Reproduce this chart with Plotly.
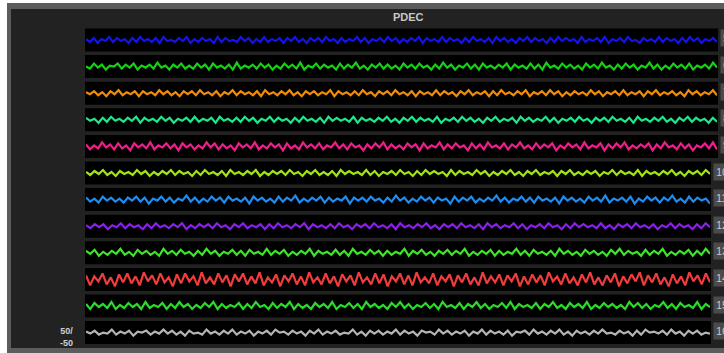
import plotly.graph_objects as go

W, H = 724, 353

channels = ["5", "6", "7", "8", "9", "10", "11", "12", "13", "14", "15", "16"]
colors = ["#1414e6", "#14d214", "#f08c0a", "#1ee68c", "#f01e8c", "#a0e614",
          "#1e8cf0", "#8c1ef0", "#3ce628", "#f03c3c", "#28dc28", "#b4b4b4"]

ch5 = [1,-2,2,-3,1,-1,3,-2,2,-1,1,-3,2,-2,3,-1,1,-2,2,-3,3,-1,0,-2,2,-1,3,-3,1,-2,2,-1,1,-3,3,-2,2,-1,0,-2,3,-1,2,-3,1,-2,3,-2,1,-1,2,-3,2,-1,3,-2,1,-3,2,-1,2,-2,3,-1,1,-3,2,-2,1,-1,3,-2,2,-3,1,-1,2,-2,3,-1,2,-3,1,-2,2,-1,3,-3,2,-1,1,-2,3,-2,2,-1,1,-3,2,-2,3,-1,1,-2,2,-3,3,-1,2,-2,1,-3,2,-1,3,-2,2,-1,1,-3,2,-2,3,-1,2,-1,1,-3,3,-2,1,-1,2,-2,3,-3,1,-1,2,-2,3,-1,0,-3,2,-1,1,-2,3,-2,2,-1,1,-3,2,-2,3,-1,2,-3,1,-1,2,-2]
ch6 = [0,-2,3,-1,2,-3,1,0,3,-2,2,-1,3,-3,1,-1,2,-2,4,-1,1,-3,2,-1,3,-2,1,-2,3,-1,2,-3,3,-1,1,-2,2,-3,4,-2,1,-1,2,-2,3,-1,2,-3,1,-2,3,-1,2,-2,4,-3,1,-1,3,-2,2,-1,1,-3,3,-2,2,-1,4,-2,1,-3,2,-1,3,-2,2,-2,1,-3,3,-1,2,-2,3,-1,1,-3,2,-2,4,-1,2,-3,1,-1,3,-2,2,-3,3,-1,1,-2,2,-1,3,-3,2,-1,1,-2,3,-2,2,-3,4,-1,1,-2,3,-1,2,-2,1,-3,3,-1,2,-2,4,-1,1,-3,2,-2,3,-1,2,-3,1,-1,4,-2,2,-3,1,-2,3,-1,2,-2,3,-3,1,-1,2,-2,4,-1]
ch7 = [1,-1,2,-2,1,-3,2,-1,3,-2,1,-1,2,-3,2,-1,1,-2,3,-1,2,-2,1,-3,2,-1,2,-2,3,-1,1,-2,2,-3,1,-1,3,-2,2,-1,1,-2,2,-3,3,-1,1,-2,2,-1,3,-2,1,-3,2,-1,2,-2,1,-1,3,-3,2,-1,1,-2,2,-2,3,-1,1,-3,2,-1,2,-2,3,-1,1,-2,2,-3,2,-1,1,-2,3,-2,2,-1,1,-3,2,-1,3,-2,1,-1,2,-3,2,-2,3,-1,1,-2,2,-1,3,-3,1,-1,2,-2,3,-1,2,-3,1,-2,2,-1,1,-2,3,-1,2,-3,1,-1,2,-2,3,-2,1,-1,2,-3,2,-1,3,-2,1,-1,2,-2,1,-3,3,-1,2,-2,1,-1,3,-2]
ch8 = [2,-1,1,-3,2,-2,3,-1,1,-2,2,-1,3,-3,2,-1,1,-2,3,-1,2,-3,1,-1,2,-2,3,-2,1,-1,2,-3,3,-1,1,-2,2,-2,3,-1,2,-3,1,-1,3,-2,2,-1,1,-3,2,-2,3,-1,1,-2,2,-3,3,-1,2,-1,1,-2,3,-3,2,-1,1,-2,2,-1,3,-2,1,-3,2,-1,3,-2,2,-1,1,-2,3,-3,1,-1,2,-2,3,-1,2,-2,1,-3,2,-1,3,-2,1,-1,2,-3,3,-1,2,-2,1,-1,3,-2,2,-3,1,-1,2,-2,3,-1,1,-3,2,-1,2,-2,3,-1,1,-2,2,-3,3,-1,1,-2,2,-1,3,-2,1,-3,2,-1,3,-2,2,-1,1,-3,2,-2]
ch9 = [2,-3,1,-2,4,-1,2,-3,3,-2,1,-4,3,-1,2,-2,4,-3,1,-1,3,-2,2,-4,3,-1,2,-3,1,-2,4,-1,3,-3,2,-2,1,-4,3,-1,2,-2,4,-3,1,-2,3,-1,2,-4,3,-2,1,-3,4,-1,2,-2,3,-3,1,-1,4,-2,2,-3,3,-1,1,-4,2,-2,3,-1,4,-3,2,-2,1,-3,3,-1,2,-4,3,-2,1,-1,4,-3,2,-2,3,-1,1,-4,3,-2,2,-3,4,-1,1,-2,3,-3,2,-1,4,-2,1,-3,3,-2,2,-1,3,-4,1,-2,3,-1,2,-3,4,-2,1,-1,3,-4,2,-2,3,-1,4,-3,1,-2,2,-1,3,-4,2,-2,4,-1,1,-3,3,-2,2,-4,1,-1,3,-2,4,-3]
ch10 = [1,-2,2,-1,3,-2,1,-3,2,-1,1,-2,3,-1,2,-3,1,-2,2,-1,3,-2,2,-1,1,-3,2,-2,3,-1,1,-2,2,-3,3,-1,1,-2,2,-1,3,-3,1,-2,2,-1,2,-2,3,-1,1,-3,2,-1,3,-2,1,-2,2,-3,3,-1,2,-1,1,-2,3,-2,2,-3,1,-1,2,-2,3,-1,1,-3,2,-2,3,-1,2,-1,1,-3,3,-2,2,-1,1,-2,3,-1,2,-3,1,-2,2,-1,3,-2,1,-3,2,-1,3,-2,1,-1,2,-3,2,-1,3,-2,1,-2,2,-1,2,-3,1,-1,3,-2,2,-1,1,-2,3,-3,2,-1,1,-2,2,-1,3,-2,1,-3,2,-1,2,-2,3,-1]
ch11 = [2,-2,1,-3,3,-1,2,-2,1,-3,2,-1,3,-2,2,-4,1,-1,3,-2,2,-3,1,-1,4,-2,2,-3,1,-2,3,-1,2,-3,3,-1,1,-2,2,-4,3,-1,2,-2,1,-3,3,-2,2,-1,4,-3,1,-2,2,-1,3,-3,2,-2,1,-1,3,-4,2,-1,2,-2,3,-1,1,-3,2,-2,4,-1,2,-3,1,-2,3,-1,2,-3,2,-1,1,-4,3,-2,2,-1,3,-3,1,-2,2,-1,4,-2,2,-3,1,-1,3,-2,2,-3,3,-1,1,-2,2,-4,3,-1,2,-2,1,-3,3,-1,2,-2,4,-3,1,-1,2,-2,3,-4,1,-2,3,-1,2,-3,2,-1,4,-2,1,-3,3,-2,2,-1,1,-4]
ch12 = [1,-2,2,-1,2,-3,1,-1,3,-2,2,-1,1,-3,2,-2,3,-1,1,-2,2,-1,3,-3,1,-2,2,-1,2,-2,3,-1,1,-3,2,-1,3,-2,1,-1,2,-3,2,-2,3,-1,1,-2,2,-1,3,-3,2,-1,1,-2,2,-2,3,-1,1,-3,2,-1,2,-2,3,-1,1,-2,2,-3,3,-1,1,-2,2,-1,3,-2,1,-3,2,-1,2,-2,3,-1,1,-2,2,-3,3,-1,2,-2,1,-1,3,-2,2,-3,1,-1,2,-2,3,-1,1,-3,2,-2,3,-1,2,-1,1,-2,3,-2,1,-3,2,-1,2,-2,3,-1,1,-2,2,-3,1,-1,3,-2,2,-1,1,-3,2,-2,3,-1]
ch13 = [2,-1,3,-3,1,-2,2,-1,4,-2,1,-3,3,-1,2,-2,1,-3,4,-1,2,-2,3,-1,1,-3,2,-2,4,-1,2,-3,1,-1,3,-2,2,-3,3,-1,1,-2,4,-2,2,-1,3,-3,1,-2,2,-1,4,-3,2,-1,1,-2,3,-2,2,-3,4,-1,1,-2,3,-1,2,-3,2,-2,1,-1,4,-3,2,-1,3,-2,1,-3,2,-1,3,-2,2,-1,4,-3,1,-2,2,-1,3,-3,2,-2,1,-1,4,-2,2,-3,3,-1,1,-2,2,-3,4,-1,2,-2,1,-3,3,-1,2,-2,1,-3,3,-1,4,-2,2,-1,1,-3,3,-2,2,-1,4,-3,1,-2,2,-1,3,-3,2,-2,4,-1]
ch14 = [4,-6,3,-2,6,-5,2,-7,5,-3,6,-4,3,-6,7,-2,4,-5,6,-3,2,-7,5,-4,6,-2,3,-6,7,-4,2,-5,6,-3,4,-7,5,-2,6,-5,3,-4,7,-6,2,-3,5,-7,4,-2,6,-5,3,-6,7,-3,2,-5,6,-4,3,-7,5,-2,4,-6,7,-3,2,-5,6,-4,5,-7,3,-2,6,-5,4,-6,7,-3,2,-4,6,-6,3,-2,5,-7,4,-3,6,-5,2,-6,7,-4,3,-3,5,-6,4,-2,6,-7,3,-5,5,-3,4,-6,7,-2,3,-5,6,-4,2,-6,5,-3,7,-5,2,-6,4,-3,6,-7,3,-4,5,-2,7,-6,4,-3,6,-5,2,-7,5,-4,3,-6,7,-2,4,-5,6,-3]
ch15 = [2,-3,3,-1,2,-2,4,-3,1,-2,3,-1,2,-3,4,-2,1,-1,3,-3,2,-2,4,-1,2,-3,1,-2,3,-1,4,-3,2,-2,1,-1,3,-3,2,-2,4,-1,1,-3,3,-2,2,-1,4,-3,2,-2,1,-3,3,-1,2,-2,4,-3,1,-1,3,-2,2,-3,4,-1,2,-2,1,-3,3,-1,4,-2,2,-3,1,-1,3,-2,2,-3,4,-1,1,-2,3,-3,2,-1,4,-2,2,-3,1,-1,3,-2,4,-3,2,-1,1,-2,3,-3,2,-1,4,-2,1,-3,3,-1,2,-2,4,-3,1,-2,3,-1,2,-2,1,-3,4,-1,3,-2,2,-3,1,-1,4,-2,2,-3,3,-1,1,-2,4,-3,2,-1]
ch16 = [1,-1,2,-2,0,-1,3,-2,1,-1,2,-3,1,0,2,-2,1,-1,3,-1,2,-2,1,-3,2,-1,0,-2,3,-1,1,-2,2,-1,3,-2,1,-1,2,-3,1,-1,2,-2,3,0,1,-2,2,-1,1,-3,2,-1,3,-2,1,-1,2,-2,0,-1,3,-2,1,-3,2,-1,2,-2,1,-1,3,-2,2,-1,1,-3,2,0,1,-2,3,-1,2,-2,1,-1,2,-3,1,-1,3,-2,2,-1,1,-2,2,-3,1,0,2,-2,3,-1,1,-2,2,-1,3,-2,1,-3,2,-1,1,-2,2,-1,3,-1,0,-2,2,-1,1,-3,2,-2,3,0,1,-1,2,-2,3,-1,1,-3,2,-1,2,-2,0,-1]

series = [ch5, ch6, ch7, ch8, ch9, ch10, ch11, ch12, ch13, ch14, ch15, ch16]
title_text = "PDEC"
scale_text = "<b>50/<br>-50</b>"


def px(x):
    return x / W


def py(y):
    return 1 - y / H


fig = go.Figure()
shapes = [
    dict(type="rect", xref="paper", yref="paper", x0=px(7), x1=px(W), y0=py(H), y1=py(3),
         fillcolor="#5c5c5c", line=dict(width=0), layer="below"),
    dict(type="rect", xref="paper", yref="paper", x0=px(11), x1=px(W), y0=py(348), y1=py(9),
         fillcolor="#222222", line=dict(width=0), layer="below"),
]
layout = dict(
    width=W, height=H,
    margin=dict(l=0, r=0, t=0, b=0),
    paper_bgcolor="#ffffff",
    plot_bgcolor="rgba(0,0,0,0)",
    showlegend=False,
    annotations=[],
)

left = 85
top0 = 28.5
step = 26.6
band = 23
for i, (name, col, vals) in enumerate(zip(channels, colors, series)):
    k = i + 1
    right = 718 if len(name) == 1 else 711
    t = top0 + i * step
    b = t + band
    shapes.append(dict(type="rect", xref="paper", yref="paper", x0=px(left), x1=px(right),
                       y0=py(b), y1=py(t), fillcolor="#000000", line=dict(width=0), layer="below"))
    xa = "xaxis" if k == 1 else f"xaxis{k}"
    ya = "yaxis" if k == 1 else f"yaxis{k}"
    layout[xa] = dict(domain=[px(left + 1), px(right - 1)], range=[0, len(vals) - 1],
                      showgrid=False, zeroline=False, showticklabels=False,
                      anchor=f"y{k}" if k > 1 else "y", fixedrange=True)
    layout[ya] = dict(domain=[py(b), py(t)], range=[-11.5, 11.5],
                      showgrid=False, zeroline=False, showticklabels=False,
                      anchor=f"x{k}" if k > 1 else "x", fixedrange=True)
    fig.add_trace(go.Scatter(
        x=list(range(len(vals))), y=vals, mode="lines",
        line=dict(color=col, width=2.2),
        xaxis=f"x{k}" if k > 1 else "x", yaxis=f"y{k}" if k > 1 else "y",
        hoverinfo="skip"))
    layout["annotations"].append(dict(
        xref="paper", yref="paper", x=px(right + 2), y=py(t + 10),
        xanchor="left", yanchor="middle", text=name, showarrow=False,
        font=dict(family="Arial", size=11, color="#c4c4c4"),
        bgcolor="#4a4a4a", borderpad=2))

layout["shapes"] = shapes
layout["annotations"].append(dict(
    xref="paper", yref="paper", x=px(408), y=py(17), xanchor="center", yanchor="middle",
    text=f"<b>{title_text}</b>", showarrow=False,
    font=dict(family="Arial", size=11, color="#c8c8c8")))
layout["annotations"].append(dict(
    xref="paper", yref="paper", x=px(66), y=py(337), xanchor="center", yanchor="middle",
    text=scale_text, showarrow=False,
    font=dict(family="Arial", size=9, color="#d0d0d0")))

fig.update_layout(**layout)
fig.write_html("out.html", config={"displayModeBar": False},
               post_script="document.body.style.margin='0';document.body.style.overflow='hidden';")
